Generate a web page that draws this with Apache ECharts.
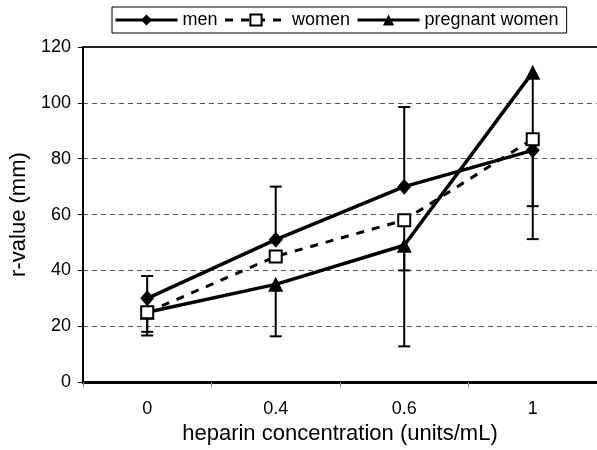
<!DOCTYPE html>
<html>
<head>
<meta charset="utf-8">
<script src="https://cdn.jsdelivr.net/npm/echarts@6/dist/echarts.min.js"></script>
<style>
  html, body { margin: 0; padding: 0; background: #fff; }
  #chart { width: 597px; height: 450px; }
</style>
</head>
<body>
<div id="chart"></div>
<script>
const categories = ['0', '0.4', '0.6', '1'];
const yTicks = [0, 20, 40, 60, 80, 100, 120];

const men = [30, 51, 70, 83];
const women = [25, 45, 58, 87];
const pregnant = [25, 35, 49, 111];

// end points of the error bars (null = none visible)
const menErrEnd = [38, 70, 98.5, 63];
const womenErrEnd = [18, null, 40, null];
const pregnantErrEnd = [16.7, 16.4, 12.8, 51.2];

const font = 'Liberation Sans, Arial, sans-serif';

function errorSeries(values, ends) {
    const data = [];
    values.forEach((v, i) => {
        if (ends[i] != null) data.push([i, v, ends[i]]);
    });
    return {
        type: 'custom',
        silent: true,
        z: 1,
        encode: { x: 0, y: [1, 2] },
        data: data,
        renderItem: (params, api) => {
            const p0 = api.coord([api.value(0), api.value(1)]);
            const p1 = api.coord([api.value(0), api.value(2)]);
            const half = 6;
            const st = { stroke: '#000', lineWidth: 2 };
            return {
                type: 'group',
                children: [
                    { type: 'line', shape: { x1: p0[0], y1: p0[1], x2: p1[0], y2: p1[1] }, style: st },
                    { type: 'line', shape: { x1: p1[0] - half, y1: p1[1], x2: p1[0] + half, y2: p1[1] }, style: st }
                ]
            };
        }
    };
}

const option = {
    animation: false,
    backgroundColor: '#fff',
    textStyle: { fontFamily: font, color: '#000' },
    legend: {
        data: ['men', 'women', 'pregnant women'],
        left: 112,
        top: 7,
        padding: [4, 8, 4, 2],
        itemWidth: 62,
        itemHeight: 14,
        itemGap: 6,
        borderColor: '#000',
        borderWidth: 1,
        lineStyle: { width: 3 },
        textStyle: { fontSize: 18, color: '#000', fontFamily: font }
    },
    grid: {
        left: 73,
        top: 47,
        width: 528,
        bottom: 66
    },
    xAxis: [
        {
            type: 'category',
            data: categories,
            name: 'heparin concentration (units/mL)',
            nameLocation: 'middle',
            nameGap: 39,
            nameTextStyle: { fontSize: 22, color: '#000', fontFamily: font },
            axisLine: { lineStyle: { color: '#000', width: 3 } },
            axisTick: { show: true, length: 5, lineStyle: { color: '#888', width: 1 } },
            axisLabel: { fontSize: 18, color: '#000', margin: 18, fontFamily: font },
            splitLine: { show: false }
        },
        {
            // plain frame line along the top of the plot
            type: 'category',
            data: categories,
            position: 'top',
            axisLine: { show: true, lineStyle: { color: '#222', width: 2 } },
            axisTick: { show: false },
            axisLabel: { show: false },
            splitLine: { show: false }
        }
    ],
    yAxis: {
        type: 'value',
        min: yTicks[0],
        max: yTicks[yTicks.length - 1],
        interval: 20,
        name: 'r-value (mm)',
        nameLocation: 'middle',
        nameGap: 45,
        nameTextStyle: { fontSize: 22, color: '#000', fontFamily: font },
        axisLine: { show: true, lineStyle: { color: '#000', width: 2 } },
        axisTick: { show: true, length: 5, lineStyle: { color: '#000', width: 1 } },
        axisLabel: { fontSize: 18, color: '#000', margin: 12, fontFamily: font },
        splitLine: { show: true, lineStyle: { color: '#555', width: 1, type: [5, 4] } }
    },
    series: [
        errorSeries(men, menErrEnd),
        errorSeries(women, womenErrEnd),
        errorSeries(pregnant, pregnantErrEnd),
        {
            name: 'men',
            type: 'line',
            data: men,
            z: 3,
            symbol: 'diamond',
            symbolSize: [14, 16],
            lineStyle: { color: '#000', width: 3.5 },
            itemStyle: { color: '#000' }
        },
        {
            name: 'women',
            type: 'line',
            data: women,
            z: 4,
            symbol: 'rect',
            symbolSize: 12,
            lineStyle: { color: '#000', width: 3, type: [8, 8] },
            itemStyle: { color: '#fff', borderColor: '#000', borderWidth: 2 }
        },
        {
            name: 'pregnant women',
            type: 'line',
            data: pregnant,
            z: 3,
            symbol: 'triangle',
            symbolSize: 15,
            lineStyle: { color: '#000', width: 3.5 },
            itemStyle: { color: '#000' }
        }
    ]
};

const chart = echarts.init(document.getElementById('chart'));
chart.setOption(option);
</script>
</body>
</html>
